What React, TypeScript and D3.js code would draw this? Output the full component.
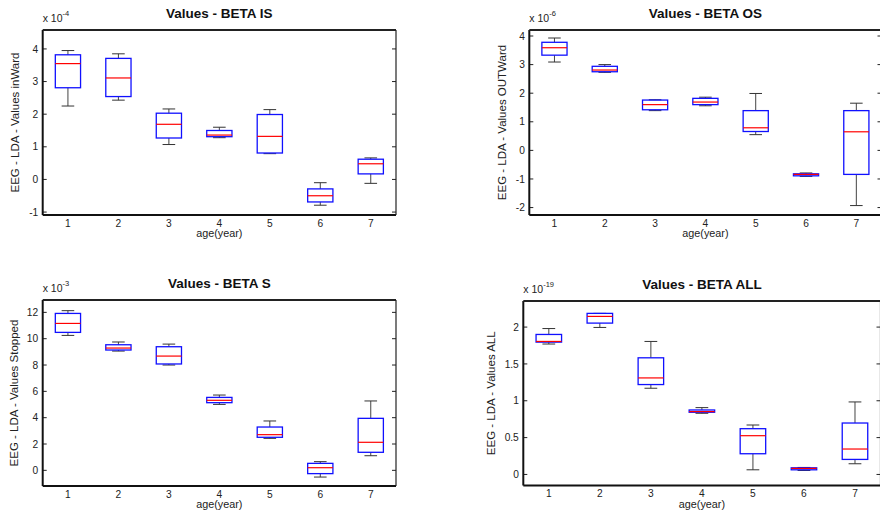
import React from "react";
import * as d3 from "d3";

// Categories (age in years)
const ages = [1, 2, 3, 4, 5, 6, 7];

// Box statistics per age: [whiskerLow, q1, median, q3, whiskerHigh]
const betaIS: number[][] = [
  [2.25, 2.81, 3.55, 3.82, 3.95],
  [2.43, 2.54, 3.11, 3.71, 3.85],
  [1.07, 1.27, 1.69, 2.03, 2.16],
  [1.28, 1.31, 1.36, 1.50, 1.60],
  [0.79, 0.81, 1.32, 1.99, 2.14],
  [-0.79, -0.69, -0.50, -0.29, -0.10],
  [-0.12, 0.17, 0.48, 0.62, 0.66],
];
const betaOS: number[][] = [
  [3.09, 3.33, 3.59, 3.78, 3.93],
  [2.73, 2.75, 2.81, 2.94, 3.0],
  [1.39, 1.42, 1.60, 1.76, 1.77],
  [1.56, 1.60, 1.69, 1.82, 1.86],
  [0.55, 0.66, 0.79, 1.39, 1.99],
  [-0.91, -0.89, -0.84, -0.82, -0.79],
  [-1.93, -0.84, 0.65, 1.39, 1.65],
];
const betaS: number[][] = [
  [10.25, 10.48, 11.16, 11.92, 12.13],
  [9.06, 9.14, 9.29, 9.54, 9.75],
  [8.0, 8.08, 8.68, 9.39, 9.59],
  [5.01, 5.14, 5.32, 5.54, 5.72],
  [2.43, 2.51, 2.71, 3.29, 3.75],
  [-0.51, -0.25, 0.2, 0.53, 0.66],
  [1.11, 1.37, 2.13, 3.95, 5.27],
];
const betaALL: number[][] = [
  [1.77, 1.796, 1.805, 1.9, 1.98],
  [1.995, 2.054, 2.145, 2.186, 2.186],
  [1.17, 1.22, 1.31, 1.583, 1.805],
  [0.83, 0.844, 0.853, 0.875, 0.907],
  [0.063, 0.281, 0.526, 0.621, 0.671],
  [0.054, 0.063, 0.082, 0.09, 0.095],
  [0.145, 0.204, 0.345, 0.698, 0.984],
];

// Tick labels
const ticksIS = [-1, 0, 1, 2, 3, 4];
const ticksOS = [-2, -1, 0, 1, 2, 3, 4];
const ticksS = [0, 2, 4, 6, 8, 10, 12];
const ticksALL = [0, 0.5, 1, 1.5, 2];

const titles = ["Values - BETA IS", "Values - BETA OS", "Values - BETA S", "Values - BETA ALL"];
const yLabels = [
  "EEG - LDA - Values inWard",
  "EEG - LDA - Values OUTWard",
  "EEG - LDA - Values Stopped",
  "EEG - LDA - Values ALL",
];
const exponents = ["-4", "-6", "-3", "-19"];
const xLabel = "age(year)";

type Panel = {
  data: number[][];
  ticks: number[];
  title: string;
  yLabel: string;
  exp: string;
  left: number;
  right: number;
  top: number;
  bottom: number;
  yDomain: [number, number];
  yLabelX: number;
};

const panels: Panel[] = [
  { data: betaIS, ticks: ticksIS, title: titles[0], yLabel: yLabels[0], exp: exponents[0],
    left: 42.7, right: 396, top: 30, bottom: 215, yDomain: [-1.09, 4.58], yLabelX: 18.5 },
  { data: betaOS, ticks: ticksOS, title: titles[1], yLabel: yLabels[1], exp: exponents[1],
    left: 529.3, right: 881.5, top: 30, bottom: 215, yDomain: [-2.26, 4.21], yLabelX: 506 },
  { data: betaS, ticks: ticksS, title: titles[2], yLabel: yLabels[2], exp: exponents[2],
    left: 42.7, right: 396, top: 300, bottom: 486, yDomain: [-1.19, 12.94], yLabelX: 18 },
  { data: betaALL, ticks: ticksALL, title: titles[3], yLabel: yLabels[3], exp: exponents[3],
    left: 523.3, right: 880.5, top: 301, bottom: 485.5, yDomain: [-0.15, 2.354], yLabelX: 494.5 },
];

const FONT = "'Liberation Sans', Arial, Helvetica, sans-serif";

function BoxPanel({ p }: { p: Panel }) {
  const x = d3.scaleLinear().domain([0.5, 7.5]).range([p.left, p.right]);
  const y = d3.scaleLinear().domain(p.yDomain).range([p.bottom, p.top]);
  const boxHalf = x(0.25) - x(0);
  const capHalf = x(0.125) - x(0);
  const cx = (p.left + p.right) / 2;
  const cy = (p.top + p.bottom) / 2;
  const fmt = (v: number) => String(v);
  return (
    <g>
      {/* title */}
      <text x={cx} y={p.top - 12} textAnchor="middle" fontFamily={FONT} fontWeight="bold" fontSize={13.5} fill="#111">
        {p.title}
      </text>
      {/* exponent */}
      <text x={p.left} y={p.top - 8.3} fontFamily={FONT} fontSize={10.5} fill="#222">
        x 10
        <tspan dy={-6} fontSize={7.5}>{p.exp}</tspan>
      </text>
      {/* y label */}
      <text
        transform={`translate(${p.yLabelX},${cy}) rotate(-90)`}
        textAnchor="middle"
        fontFamily={FONT}
        fontSize={11.5}
        fill="#222"
      >
        {p.yLabel}
      </text>
      {/* x label */}
      <text x={cx} y={p.bottom + 22} textAnchor="middle" fontFamily={FONT} fontSize={10.8} fill="#222">
        {xLabel}
      </text>
      {/* y ticks */}
      {p.ticks.map((t) => (
        <g key={t}>
          <line x1={p.left} x2={p.left + 4} y1={y(t)} y2={y(t)} stroke="#222" strokeWidth={1} />
          <line x1={p.right - 4} x2={p.right} y1={y(t)} y2={y(t)} stroke="#222" strokeWidth={1} />
          <text x={p.left - 4.5} y={y(t) + 3.6} textAnchor="end" fontFamily={FONT} fontSize={10.2} fill="#222">
            {fmt(t)}
          </text>
        </g>
      ))}
      {/* x tick labels */}
      {ages.map((a) => (
        <text key={a} x={x(a)} y={p.bottom + 11.5} textAnchor="middle" fontFamily={FONT} fontSize={10.2} fill="#222">
          {a}
        </text>
      ))}
      {/* boxes */}
      {p.data.map((s, i) => {
        const xc = x(ages[i]);
        const [lo, q1, med, q3, hi] = s;
        return (
          <g key={i}>
            <line x1={xc} x2={xc} y1={y(q3)} y2={y(hi)} stroke="#444" strokeWidth={1} />
            <line x1={xc} x2={xc} y1={y(q1)} y2={y(lo)} stroke="#444" strokeWidth={1} />
            <line x1={xc - capHalf} x2={xc + capHalf} y1={y(hi)} y2={y(hi)} stroke="#333" strokeWidth={1} />
            <line x1={xc - capHalf} x2={xc + capHalf} y1={y(lo)} y2={y(lo)} stroke="#333" strokeWidth={1} />
            <rect
              x={xc - boxHalf}
              y={y(q3)}
              width={boxHalf * 2}
              height={Math.max(0.5, y(q1) - y(q3))}
              fill="none"
              stroke="#1010ff"
              strokeWidth={1.3}
            />
            <line x1={xc - boxHalf} x2={xc + boxHalf} y1={y(med)} y2={y(med)} stroke="#ff0000" strokeWidth={1.2} />
          </g>
        );
      })}
      {/* frame */}
      <line x1={p.left} x2={p.left} y1={p.top} y2={p.bottom} stroke="#111" strokeWidth={2} />
      <line x1={p.left} x2={p.right} y1={p.bottom} y2={p.bottom} stroke="#111" strokeWidth={2} />
      <line x1={p.left} x2={p.right} y1={p.top} y2={p.top} stroke="#222" strokeWidth={2} />
      <line x1={p.right} x2={p.right} y1={p.top} y2={p.bottom} stroke="#222" strokeWidth={1.2} />
    </g>
  );
}

export default function App() {
  return (
    <svg
      width={880}
      height={514}
      viewBox="0 0 880 514"
      style={{ position: "absolute", left: 0, top: 0, background: "#fff" }}
    >
      <rect x={0} y={0} width={880} height={514} fill="#fff" />
      {panels.map((p, i) => (
        <BoxPanel key={i} p={p} />
      ))}
    </svg>
  );
}
